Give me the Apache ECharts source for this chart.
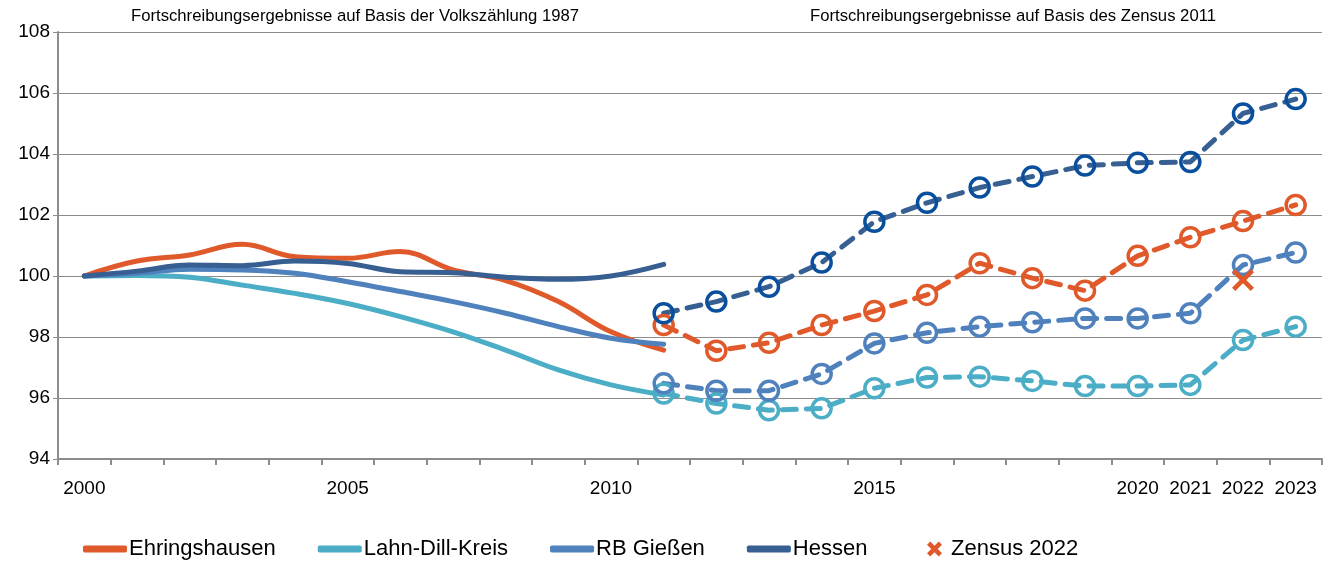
<!DOCTYPE html>
<html>
<head>
<meta charset="utf-8">
<script src="https://cdn.jsdelivr.net/npm/echarts@6/dist/echarts.min.js"></script>
<style>
  html, body { margin: 0; padding: 0; background: #fff; }
  #chart { width: 1333px; height: 565px; }
</style>
</head>
<body>
<div id="chart"></div>
<script>
const years = ['2000', '2001', '2002', '2003', '2004', '2005', '2006', '2007', '2008', '2009', '2010', '2011',
  '2012', '2013', '2014', '2015', '2016', '2017', '2018', '2019', '2020', '2021', '2022', '2023']
const shownYears = ['2000', '2005', '2010', '2015', '2020', '2021', '2022', '2023']

// Fortschreibung auf Basis der Volkszählung 1987 (2000-2011)
const ehrSolid = [100, 100.49, 100.69, 101.04, 100.63, 100.58, 100.8, 100.2, 99.85, 99.16, 98.17, 97.57]
const lahnSolid = [100, 100.02, 99.96, 99.7, 99.43, 99.1, 98.67, 98.17, 97.57, 96.92, 96.43, 96.1]
const rbSolid = [100, 100.09, 100.22, 100.2, 100.09, 99.81, 99.49, 99.16, 98.78, 98.34, 97.96, 97.76]
const hesSolid = [100, 100.16, 100.36, 100.34, 100.49, 100.41, 100.14, 100.11, 99.96, 99.89, 100.0, 100.38]

// Fortschreibung auf Basis des Zensus 2011 (2011-2023)
const ehrZensus = [98.39, 97.55, 97.81, 98.39, 98.85, 99.38, 100.42, 99.93, 99.52, 100.66, 101.27, 101.8, 102.33]
const lahnZensus = [96.15, 95.82, 95.6, 95.66, 96.32, 96.67, 96.7, 96.56, 96.39, 96.39, 96.43, 97.9, 98.34]
const rbZensus = [96.48, 96.24, 96.24, 96.79, 97.79, 98.14, 98.34, 98.48, 98.61, 98.61, 98.78, 100.36, 100.77]
const hesZensus = [98.78, 99.16, 99.65, 100.44, 101.78, 102.4, 102.9, 103.26, 103.62, 103.71, 103.74, 105.33, 105.8]

const zensus2022Year = '2022'
const zensus2022Value = 99.87

const yMin = 94
const yMax = 108
const yStep = 2

const FONT = '"Liberation Sans", Arial, sans-serif'
const crossPath = 'path://M0,1.5L1.5,0L5,3.5L8.5,0L10,1.5L6.5,5L10,8.5L8.5,10L5,6.5L1.5,10L0,8.5L3.5,5Z'
const crossPathBold = 'path://M0,2.2L2.2,0L5,2.8L7.8,0L10,2.2L7.2,5L10,7.8L7.8,10L5,7.2L2.2,10L0,7.8L2.8,5Z'

const colors = {
  ehr: '#E0592A',
  lahn: '#4BADC6',
  rb: '#4F81BD',
  hes: '#375F92',
  hesMarker: '#0A4F9E'
}

const startZensus = years.indexOf('2011')
const padSolid = arr => years.map((y, i) => (i < arr.length ? arr[i] : null))
const padZensus = arr => years.map((y, i) => (i >= startZensus ? arr[i - startZensus] : null))

const solidSeries = (name, data, color) => ({
  name,
  type: 'line',
  data: padSolid(data),
  smooth: 0.4,
  showSymbol: false,
  symbol: 'none',
  lineStyle: { color, width: 5, cap: 'round' },
  itemStyle: { color },
  z: 2
})

const dashedSeries = (name, data, color, markerColor) => ({
  name,
  type: 'line',
  data: padZensus(data),
  symbol: 'circle',
  symbolSize: 19,
  showSymbol: true,
  lineStyle: { color, width: 5, type: [14, 10], cap: 'round' },
  itemStyle: { color: 'rgba(0,0,0,0)', borderColor: markerColor || color, borderWidth: 3.5 },
  z: 3
})

const chart = echarts.init(document.getElementById('chart'))

chart.setOption({
  animation: false,
  backgroundColor: '#fff',
  grid: { left: 58, right: 11, top: 32, bottom: 106 },
  graphic: [
    {
      type: 'text', x: 355, y: 8,
      style: { text: 'Fortschreibungsergebnisse auf Basis der Volkszählung 1987', fill: '#000', font: '16.7px ' + FONT, textAlign: 'center' }
    },
    {
      type: 'text', x: 1013, y: 8,
      style: { text: 'Fortschreibungsergebnisse auf Basis des Zensus 2011', fill: '#000', font: '16.7px ' + FONT, textAlign: 'center' }
    }
  ],
  legend: [
    {
      data: ['Ehringshausen', 'Lahn-Dill-Kreis', 'RB Gießen', 'Hessen'],
      left: 83,
      top: 538,
      padding: 0,
      icon: 'roundRect',
      itemWidth: 44,
      itemHeight: 7,
      itemGap: 42,
      textStyle: { fontSize: 22, color: '#000', fontFamily: FONT, padding: [0, 0, 0, -3] }
    },
    {
      data: [{ name: 'Zensus 2022', icon: crossPathBold }],
      left: 927,
      top: 538,
      padding: 0,
      itemWidth: 15,
      itemHeight: 18,
      textStyle: { fontSize: 22, color: '#000', fontFamily: FONT, padding: [0, 0, 0, 4] }
    }
  ],
  xAxis: {
    type: 'category',
    data: years,
    boundaryGap: true,
    axisLine: { lineStyle: { color: '#8c8c8c', width: 2 } },
    axisTick: { show: true, interval: 0, length: 6, lineStyle: { color: '#8c8c8c', width: 2 } },
    axisLabel: {
      interval: (i, v) => shownYears.includes(v),
      color: '#000',
      fontSize: 19,
      fontFamily: FONT,
      margin: 20
    },
    splitLine: { show: false }
  },
  yAxis: {
    type: 'value',
    min: yMin,
    max: yMax,
    interval: yStep,
    axisLine: { show: true, lineStyle: { color: '#8c8c8c', width: 2 } },
    axisTick: { show: true, length: 5, lineStyle: { color: '#8c8c8c', width: 1 } },
    axisLabel: { color: '#000', fontSize: 19, fontFamily: FONT, margin: 8 },
    splitLine: { lineStyle: { color: '#8c8c8c', width: 1 } }
  },
  series: [
    solidSeries('Ehringshausen', ehrSolid, colors.ehr),
    solidSeries('Lahn-Dill-Kreis', lahnSolid, colors.lahn),
    solidSeries('RB Gießen', rbSolid, colors.rb),
    solidSeries('Hessen', hesSolid, colors.hes),
    dashedSeries('Ehringshausen (Zensus 2011)', ehrZensus, colors.ehr),
    dashedSeries('Lahn-Dill-Kreis (Zensus 2011)', lahnZensus, colors.lahn),
    dashedSeries('RB Gießen (Zensus 2011)', rbZensus, colors.rb),
    dashedSeries('Hessen (Zensus 2011)', hesZensus, colors.hes, colors.hesMarker),
    {
      name: 'Zensus 2022',
      type: 'scatter',
      data: [[zensus2022Year, zensus2022Value]],
      symbol: crossPath,
      symbolSize: 22,
      itemStyle: { color: colors.ehr, opacity: 1 },
      z: 5
    }
  ]
})
</script>
</body>
</html>
